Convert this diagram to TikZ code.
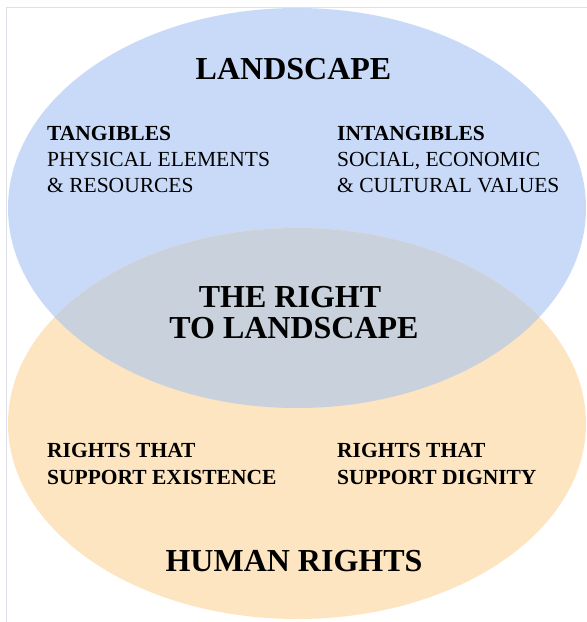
\documentclass[tikz,border=0pt]{standalone}
\usepackage{fontspec}
\setmainfont{Liberation Serif}
\definecolor{lblue}{RGB}{201,218,248}
\definecolor{lorange}{RGB}{252,229,192}
\definecolor{lgrey}{RGB}{201,209,220}
\definecolor{frame}{RGB}{222,226,232}
\begin{document}
\begin{tikzpicture}[x=1pt,y=-1pt,
  title/.style={font=\fontsize{32}{36}\selectfont\bfseries, inner sep=0pt, anchor=base},
  headtxt/.style={font=\fontsize{21.5}{25}\selectfont\bfseries, inner sep=0pt, anchor=base west},
  subtxt/.style={font=\fontsize{21.5}{25}\selectfont, inner sep=0pt, anchor=base west}]
\useasboundingbox (0,0) rectangle (587,622);
\fill[white] (0,0) rectangle (587,622);
\draw[frame, line width=1pt] (6,622) -- (6,7) -- (587,7);
\fill[lblue] (297,208) ellipse [x radius=289, y radius=200];
\fill[lorange] (297,423.5) ellipse [x radius=289, y radius=195.5];
\begin{scope}
  \clip (297,208) ellipse [x radius=289, y radius=200];
  \fill[lgrey] (297,423.5) ellipse [x radius=289, y radius=195.5];
\end{scope}
\node[title] (land) at (293.5,79) {LANDSCAPE};
\node[headtxt] (tang) at (47,140) {TANGIBLES};
\node[subtxt] (tang1) at (47,166) {PHYSICAL ELEMENTS};
\node[subtxt] (tang2) at (47,192) {\& RESOURCES};
\node[headtxt] (intang) at (337,140) {INTANGIBLES};
\node[subtxt] (intang1) at (337,166) {SOCIAL, ECONOMIC};
\node[subtxt] (intang2) at (337,192) {\& CULTURAL VALUES};
\node[title] (right1) at (290,307) {THE RIGHT};
\node[title] (right2) at (294,338) {TO LANDSCAPE};
\node[headtxt] (exist1) at (47,457) {RIGHTS THAT};
\node[headtxt] (exist2) at (47,484) {SUPPORT EXISTENCE};
\node[headtxt] (dign1) at (337,457) {RIGHTS THAT};
\node[headtxt] (dign2) at (337,484) {SUPPORT DIGNITY};
\node[title] (human) at (294,571) {HUMAN RIGHTS};
\end{tikzpicture}
\end{document}
